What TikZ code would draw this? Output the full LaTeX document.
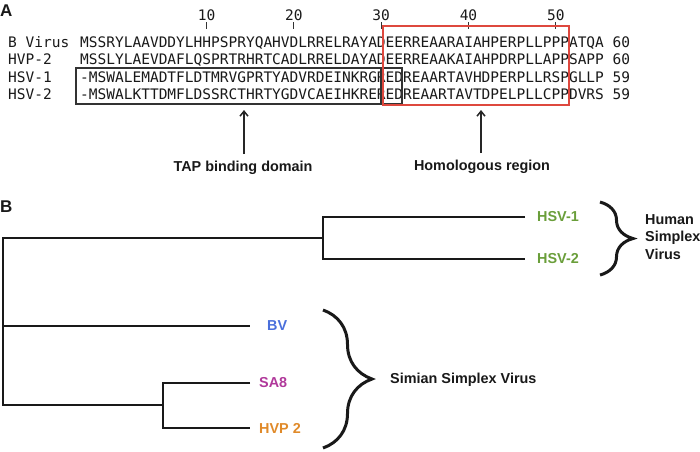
\documentclass[tikz,border=0pt]{standalone}
\usepackage{fontspec}
\setmainfont{Liberation Sans}
\newfontfamily\seqfont{DejaVu Sans Mono}
\usetikzlibrary{decorations.pathreplacing,arrows.meta}

\definecolor{hsvgreen}{RGB}{106,158,58}
\definecolor{bvblue}{RGB}{74,111,219}
\definecolor{sapurple}{RGB}{176,56,154}
\definecolor{hvporange}{RGB}{224,138,42}
\definecolor{boxred}{RGB}{222,72,62}

\begin{document}
\begin{tikzpicture}[x=1pt,y=-1pt]
    \useasboundingbox (0,0) rectangle (700,451);
    \tikzstyle{every node}=[inner sep=0pt, font=\seqfont\fontsize{14.5}{17}\selectfont, text=black!90]
    \tikzstyle{seq}=[anchor=base west]

    % panel A: alignment
    \node[anchor=west, font=\bfseries\fontsize{17}{20}\selectfont] (pa) at (0,11) {A};
    \foreach \n in {10,20,30,40,50} {
        \node[anchor=base] (num\n) at ({80+(\n+4.5)*8.73},20) {\n};
        \draw[line width=1pt, black!80] ({80+(\n+4.5)*8.73},22) -- ({80+(\n+4.5)*8.73},29);
    }

    \node[seq] (nbv) at (8,47) {B Virus};
    \node[seq] (nhvp) at (8,64.5) {HVP-2};
    \node[seq] (nhsa) at (8,82) {HSV-1};
    \node[seq] (nhsb) at (8,99.5) {HSV-2};
    \node[seq] (sbv) at (80,47) {MSSRYLAAVDDYLHHPSPRYQAHVDLRRELRAYADEERREAARAIAHPERPLLPPPATQA 60};
    \node[seq] (shvp) at (80,64.5) {MSSLYLAEVDAFLQSPRTRHRTCADLRRELDAYADEERREAAKAIAHPDRPLLAPPSAPP 60};
    \node[seq] (shsa) at (80,82) {-MSWALEMADTFLDTMRVGPRTYADVRDEINKRGREDREAARTAVHDPERPLLRSPGLLP 59};
    \node[seq] (shsb) at (80,99.5) {-MSWALKTTDMFLDSSRCTHRTYGDVCAEIHKREREDREAARTAVTDPELPLLCPPDVRS 59};

    \draw[line width=1.2pt, black!80] (76,68) rectangle (402,104);
    \draw[line width=1.2pt, black!80] (381,68) -- (381,104);
    \draw[line width=1.2pt, boxred] (383,26) rectangle (569,105);

    \tikzstyle{every node}=[inner sep=0pt, font=\bfseries\fontsize{14.4}{17.5}\selectfont, text=black!90]
    \tikzstyle{pointer}=[-{Straight Barb[length=5pt,width=8pt]}, line width=1.5pt, black!85]

    \node (tap) at (243,168) {TAP binding domain};
    \node (homo) at (482,167) {Homologous region};
    \draw[pointer] (tap.north -| 244,0) ++(0,-7) coordinate (tapfoot) -- (244,110) coordinate (taphead);
    \draw[pointer] (homo.north -| 481,0) ++(0,-7) coordinate (homofoot) -- (481,110) coordinate (homohead);

    % panel B: tree
    \node[anchor=west, font=\bfseries\fontsize{17}{20}\selectfont] (pb) at (0,207) {B};
    \tikzstyle{branch}=[line width=2.4pt, black!90]
    \tikzstyle{curly}=[line width=3pt, black!90, decorate, decoration={brace, amplitude=#1}]

    \coordinate (root) at (3,326);
    \coordinate (nhum) at (323,238);
    \coordinate (nsim) at (163,405);
    \coordinate (thsa) at (525,217);
    \coordinate (thsb) at (525,259);
    \coordinate (tbv) at (250,326);
    \coordinate (tsa) at (250,383);
    \coordinate (thvp) at (250,428);

    \node[anchor=west, text=hsvgreen] (hsa) at (537,217) {HSV-1};
    \node[anchor=west, text=hsvgreen] (hsb) at (537,259) {HSV-2};
    \node[anchor=west, text=bvblue] (bv) at (267,326) {BV};
    \node[anchor=west, text=sapurple] (sa) at (259,383) {SA8};
    \node[anchor=west, text=hvporange] (hvp) at (259,428) {HVP 2};

    \draw[branch] (nhum) -| (root) |- (nsim);
    \draw[branch] (root) -- (tbv);
    \draw[branch] (thsa) -| (nhum) |- (thsb);
    \draw[branch] (tsa) -| (nsim) |- (thvp);

    \draw[curly=33pt] (600,202) coordinate (hbtop) -- (600,275) coordinate (hbbot);
    \draw[curly=49pt] (323,310) coordinate (sbtop) -- (323,448) coordinate (sbbot);

    \node[anchor=west, align=left] (human) at (645,237) {Human\\Simplex\\Virus};
    \node[anchor=west] (simian) at (390,380) {Simian Simplex Virus};
\end{tikzpicture}
\end{document}
